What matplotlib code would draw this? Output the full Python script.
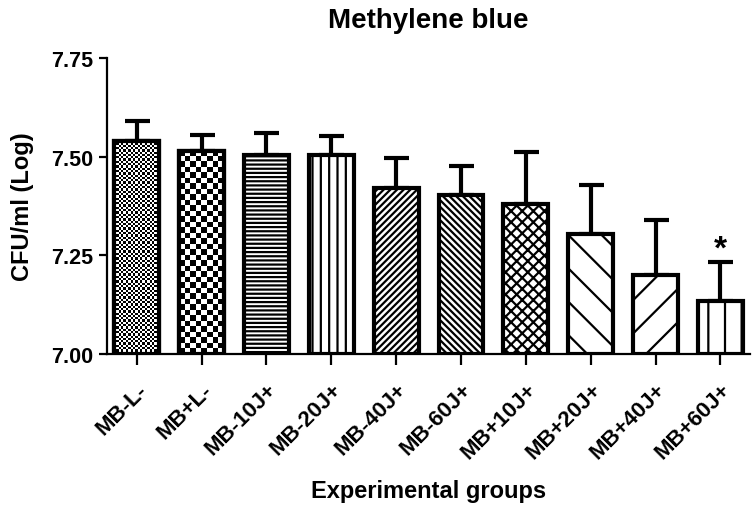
"""
Methylene blue CFU bar chart (log scale values) with hatched bars.
"""

import matplotlib

matplotlib.use("Agg")
import matplotlib.pyplot as plt
import numpy as np

GROUPS = ["MB-L-", "MB+L-", "MB-10J+", "MB-20J+", "MB-40J+",
          "MB-60J+", "MB+10J+", "MB+20J+", "MB+40J+", "MB+60J+"]
MEANS = [7.540, 7.515, 7.505, 7.504, 7.420, 7.403, 7.381, 7.305, 7.200, 7.135]
SEM = [0.051, 0.040, 0.055, 0.049, 0.076, 0.074, 0.131, 0.122, 0.140, 0.097]
# None -> checkerboard drawn with imshow (cell size in px)
HATCHES = [None, None, "----", "||", "/////", "\\\\\\\\\\", "xxx", "\\", "/", "|"]
CHECKER_PX = [2.3, 5.5, None, None, None, None, None, None, None, None]
SIGNIFICANT = [False] * 9 + [True]

plt.rcParams["font.family"] = ["Liberation Sans", "DejaVu Sans"]
plt.rcParams["font.weight"] = "bold"
plt.rcParams["hatch.linewidth"] = 1.6

BAR_W = 0.69

fig = plt.figure(figsize=(7.56, 5.06), dpi=100)
ax = fig.add_axes([0.1415, 0.2984, 0.85, 0.585])
ax.set_xlim(-0.46, 9.45)
ax.set_ylim(7.0, 7.75)

x = np.arange(len(GROUPS))
ybase = 7.0

for i, (m, e) in enumerate(zip(MEANS, SEM)):
    ax.errorbar(x[i], m, yerr=[[0], [e]], fmt="none", ecolor="black",
                elinewidth=3.0, capsize=9, capthick=3.0, zorder=1)
    ax.bar(x[i], m - ybase, bottom=ybase, width=BAR_W, facecolor="white",
           edgecolor="black", linewidth=3.0, hatch=HATCHES[i], zorder=2)
    if CHECKER_PX[i] is not None:
        x0, x1 = x[i] - BAR_W / 2, x[i] + BAR_W / 2
        p0 = ax.transData.transform((x0, ybase))
        p1 = ax.transData.transform((x1, m))
        ncol = max(1, int(round((p1[0] - p0[0]) / CHECKER_PX[i])))
        nrow = max(1, int(round((p1[1] - p0[1]) / CHECKER_PX[i])))
        board = (np.indices((nrow, ncol)).sum(axis=0) % 2).astype(float)
        ax.imshow(board, extent=(x0, x1, ybase, m), cmap="gray",
                  interpolation="nearest", aspect="auto", zorder=2.5)
        ax.bar(x[i], m - ybase, bottom=ybase, width=BAR_W, facecolor="none",
               edgecolor="black", linewidth=3.0, zorder=3)
    if SIGNIFICANT[i]:
        ax.text(x[i], m + e - 0.005, "*", ha="center", va="bottom",
                fontsize=24, fontweight="bold")

ax.set_xlim(-0.46, 9.45)
ax.set_ylim(7.0, 7.75)

ax.set_yticks([7.00, 7.25, 7.50, 7.75])
ax.set_yticklabels(["7.00", "7.25", "7.50", "7.75"], fontsize=15.5, fontweight="bold")
ax.set_xticks(x)
ax.set_xticklabels(GROUPS, rotation=45, ha="right", rotation_mode="anchor",
                   fontsize=16, fontweight="bold")

for side in ("top", "right"):
    ax.spines[side].set_visible(False)
for side in ("left", "bottom"):
    ax.spines[side].set_linewidth(1.6)
ax.tick_params(axis="y", direction="out", length=6, width=1.6, pad=4)
ax.tick_params(axis="x", direction="out", length=8, width=1.6, pad=10)

ax.set_title("Methylene blue", fontsize=20, fontweight="bold", pad=22)
ax.set_xlabel("Experimental groups", fontsize=17, fontweight="bold", labelpad=12)
ax.set_ylabel("CFU/ml (Log)", fontsize=17, fontweight="bold", labelpad=12)

fig.savefig("out.png", dpi=100)
plt.close(fig)
